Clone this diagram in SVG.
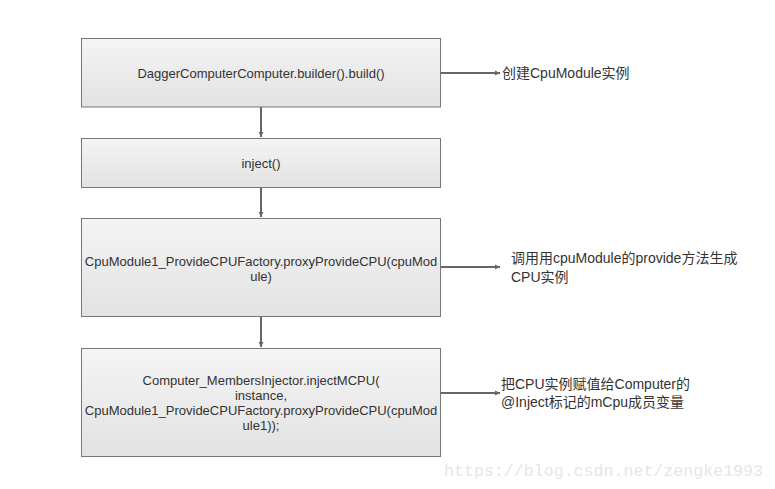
<svg xmlns="http://www.w3.org/2000/svg" width="775" height="489" viewBox="0 0 775 489">
<defs>
<linearGradient id="g" x1="0" y1="0" x2="0" y2="1">
<stop offset="0" stop-color="#f4f4f4"/>
<stop offset="1" stop-color="#e2e2e2"/>
</linearGradient>
<marker id="ah" markerWidth="6" markerHeight="6" refX="5" refY="3" orient="auto" markerUnits="userSpaceOnUse">
<path d="M0,0.5 L5,3 L0,5.5 Z" fill="#666"/>
</marker>
<style>
.box{fill:url(#g);stroke:#777;stroke-width:1}
.t{font-family:"Liberation Sans",Arial,sans-serif;font-size:13px;fill:#333;text-anchor:middle}
.n{font-family:"Liberation Sans","Noto Sans CJK SC",sans-serif;font-size:14px;fill:#333}
.c{stroke:#666;stroke-width:2;fill:none;marker-end:url(#ah)}
.w{font-family:"Liberation Mono","Noto Sans CJK SC",monospace;font-size:16px;fill:#e6e6e6}
</style>
</defs>
<rect width="775" height="489" fill="#fff"/>
<g id="connectors">
<line class="c" x1="261" y1="107" x2="261" y2="137"/>
<line class="c" x1="261" y1="188" x2="261" y2="217"/>
<line class="c" x1="261" y1="317" x2="261" y2="347"/>
<line class="c" x1="441" y1="73" x2="500" y2="73"/>
<line class="c" x1="441" y1="267" x2="500" y2="267"/>
<line class="c" x1="441" y1="393" x2="500" y2="393"/>
</g>
<g id="n1">
<rect class="box" x="81.5" y="38.5" width="359" height="68.5"/>
<text class="t" x="261" y="77.5">DaggerComputerComputer.builder().build()</text>
</g>
<g id="n2">
<rect class="box" x="81.5" y="138.5" width="359" height="49"/>
<text class="t" x="261" y="167.5">inject()</text>
</g>
<g id="n3">
<rect class="box" x="81.5" y="218.5" width="359" height="98"/>
<text class="t" x="261" y="266">CpuModule1_ProvideCPUFactory.proxyProvideCPU(cpuMod</text>
<text class="t" x="261" y="281">ule)</text>
</g>
<g id="n4">
<rect class="box" x="81.5" y="348.5" width="359" height="108"/>
<text class="t" x="261" y="384.5">Computer_MembersInjector.injectMCPU(</text>
<text class="t" x="261" y="399.5">instance,</text>
<text class="t" x="261" y="414.5">CpuModule1_ProvideCPUFactory.proxyProvideCPU(cpuMod</text>
<text class="t" x="261" y="429.5">ule1));</text>
</g>
<g id="l1">
<text class="n" x="502" y="78">创建CpuModule实例</text>
</g>
<g id="l2">
<text class="n" x="511" y="263">调用用cpuModule的provide方法生成</text>
<text class="n" x="511" y="281.5">CPU实例</text>
</g>
<g id="l3">
<text class="n" x="501" y="389">把CPU实例赋值给Computer的</text>
<text class="n" x="501" y="407">@Inject标记的mCpu成员变量</text>
</g>
<text class="w" x="444" y="476" textLength="319" lengthAdjust="spacingAndGlyphs">https://blog.csdn.net/zengke1993</text>
</svg>
